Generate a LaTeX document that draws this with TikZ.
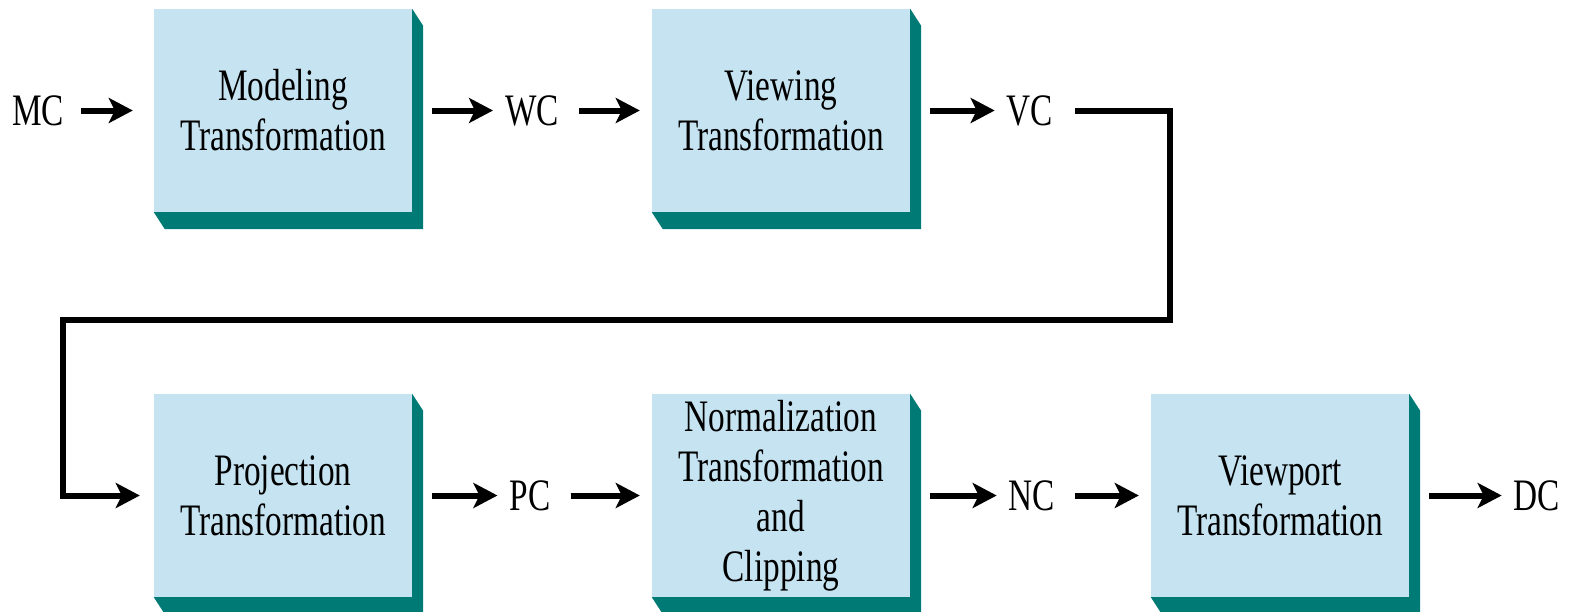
\documentclass[tikz,border=0pt]{standalone}
\usepackage{fontspec}
\setmainfont{Liberation Serif}[FakeStretch=0.74]
\usetikzlibrary{arrows.meta}
\definecolor{boxfill}{RGB}{197,227,240}
\definecolor{shadecol}{RGB}{0,122,116}
\tikzset{
  tbox/.style={fill=boxfill, minimum width=258pt, minimum height=203pt, inner sep=0pt, align=center, font=\fontsize{45}{50}\selectfont},
  lbl/.style={inner sep=0pt, font=\fontsize{45}{50}\selectfont},
  conn/.style={line width=6pt, -{Stealth[length=24pt,width=25pt,inset=6pt]}, shorten <=20pt, shorten >=12pt},
}
\newcommand\boxshadow[1]{\fill[shadecol] (#1.north east) -- ++(11,17) -- ([shift={(11,17)}]#1.south east) -- ([shift={(11,17)}]#1.south west) -- (#1.south west) -- (#1.south east) -- cycle;}
\begin{document}
\begin{tikzpicture}[x=1pt,y=-1pt]
\useasboundingbox (0,0) rectangle (1573,611);
% top row
\node[tbox] (b1) at (283,110.5) {Modeling\\Transformation};
\node[tbox] (b2) at (781,110.5) {Viewing\\Transformation};
% bottom row
\node[tbox] (b3) at (283,495.5) {Projection\\Transformation};
\node[tbox] (b4) at (781,495.5) {Normalization\\Transformation\\and\\Clipping};
\node[tbox] (b5) at (1280,495.5) {Viewport\\Transformation};
\foreach \b in {b1,b2,b3,b4,b5}{\boxshadow{\b}}
% labels
\node[lbl] (mc) at (38,110.5) {MC};
\node[lbl] (wc) at (532,110.5) {WC};
\node[lbl] (vc) at (1030,110.5) {VC};
\node[lbl] (pc) at (530,495.5) {PC};
\node[lbl] (nc) at (1032,495.5) {NC};
\node[lbl] (dc) at (1537,495.5) {DC};
\coordinate (r1) at (1170,320);
\coordinate (l1) at (63,320);
% connectors
\draw[conn, shorten <=17pt, shorten >=21pt] (mc) -- (b1);
\draw[conn] (b1) -- (wc);
\draw[conn] (wc) -- (b2);
\draw[conn] (b2) -- (vc);
\draw[conn, line join=miter, shorten <=22pt, shorten >=14pt] (vc.east) -| (r1) -- (l1) |- (b3.west);
\draw[conn] (b3) -- (pc);
\draw[conn] (pc) -- (b4);
\draw[conn] (b4) -- (nc);
\draw[conn] (nc) -- (b5);
\draw[conn] (b5) -- (dc);
\end{tikzpicture}
\end{document}
